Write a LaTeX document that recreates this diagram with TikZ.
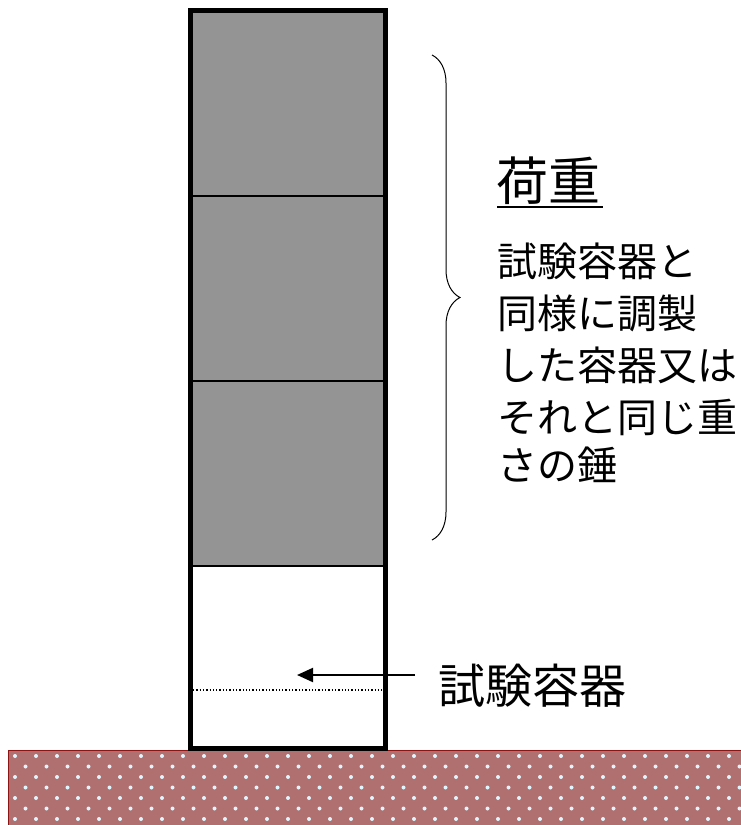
\documentclass[tikz,border=0pt]{standalone}
\usepackage{fontspec}
\newfontfamily\cjk{Noto Sans CJK JP}
\usetikzlibrary{arrows.meta,decorations.pathreplacing}
\definecolor{loadgray}{RGB}{148,148,148}
\definecolor{groundfill}{RGB}{176,112,112}
\definecolor{grounddark}{RGB}{140,20,20}
\tikzset{
  loadbox/.style={draw=black,line width=2pt,fill=loadgray,minimum width=195pt,minimum height=185pt,inner sep=0pt,anchor=north west},
  cupbox/.style={draw=black,line width=2pt,fill=white,minimum width=195pt,minimum height=183pt,inner sep=0pt,anchor=north west},
  bodytext/.style={font=\cjk\fontsize{40}{48}\selectfont,anchor=base west,inner sep=0pt},
}
\begin{document}
\begin{tikzpicture}[x=1pt,y=-1pt]
\useasboundingbox (0,0) rectangle (740,825);
% ground
\fill[groundfill] (8,750) rectangle (745,830);
\foreach \r in {0,...,7}{
  \pgfmathsetmacro{\yy}{756+10.5*\r}
  \pgfmathsetmacro{\off}{mod(\r,2)*10.5}
  \foreach \c in {0,...,35}{
    \fill[white!88!cyan] (15+\off+21*\c,\yy) circle (2pt);
  }
}
\draw[grounddark,line width=1pt] (745,750) -- (8,750) -- (8,830);
% column
\node[loadbox] (w1) at (190,10) {};
\node[loadbox] (w2) at (190,195) {};
\node[loadbox] (w3) at (190,380) {};
\node[cupbox] (cup) at (190,565) {};
\draw[line width=5pt] (190,10) rectangle (385,748);
\draw[dotted,line width=1.3pt] (193,690) -- (382,690);
% brace
\coordinate (b1) at (432,540);
\coordinate (b2) at (432,55);
\draw[line width=1pt,decorate,decoration={brace,amplitude=28pt,aspect=0.5}] (b2) -- (b1);
% texts
\node[font=\cjk\fontsize{52}{60}\selectfont,anchor=base west,inner sep=0pt] (title) at (496,200) {荷重};
\draw[line width=2.2pt] (497,207) -- (603,207);
\node[bodytext] (l1) at (497,276) {試験容器と};
\node[bodytext] (l2) at (497,328) {同様に調製};
\node[bodytext] (l3) at (497,380) {した容器又は};
\node[bodytext] (l4) at (497,432) {それと同じ重};
\node[bodytext] (l5) at (497,480) {さの錘};
\node[font=\cjk\fontsize{47}{55}\selectfont,anchor=base west,inner sep=0pt] (lbl) at (438,703) {試験容器};
\coordinate (tail) at (415,675);
\coordinate (tip) at (297,675);
\draw[line width=2pt,-{Triangle[length=16pt,width=14pt]}] (tail) -- (tip);
\end{tikzpicture}
\end{document}
